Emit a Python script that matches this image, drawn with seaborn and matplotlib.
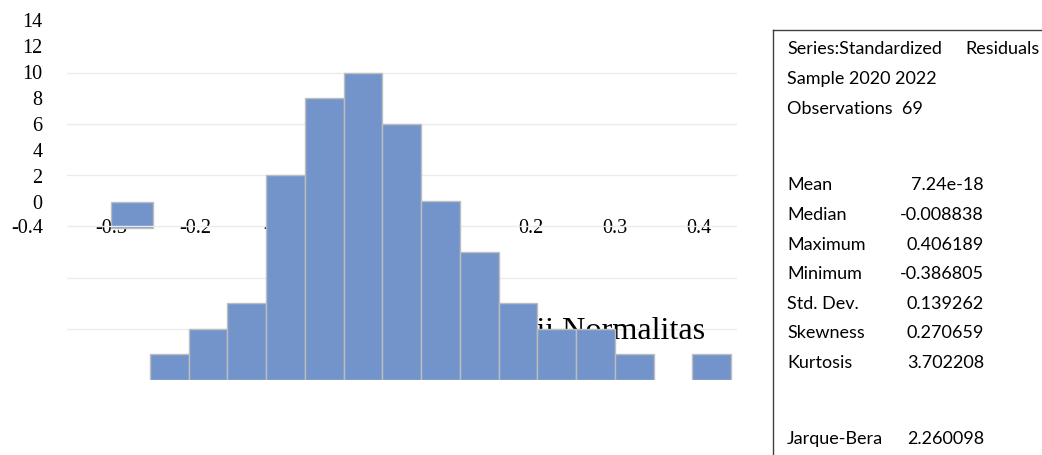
import numpy as np
import pandas as pd
import matplotlib
matplotlib.use("Agg")
import matplotlib.pyplot as plt
import seaborn as sns

# ---------------- data ----------------
bin_left = [-0.35, -0.30, -0.25, -0.20, -0.15, -0.10, -0.05, 0.00,
            0.05, 0.10, 0.15, 0.20, 0.25, 0.30, 0.35]
counts = [1, 2, 3, 8, 11, 12, 10, 7, 5, 3, 2, 2, 1, 0, 1]
bin_width = 0.05

# displaced first bin (drawn on the stray axis)
displaced_left = [-0.30]
displaced_height = [-2]

ghost_xticks = [-0.4, -0.3, -0.2, -0.1, 0.0, 0.1, 0.2, 0.3, 0.4]
ghost_xlabels = ["-0.4", "-0.3", "-0.2", "-0.1", "0.0", "0.1", "0.2", "0.3", "0.4"]
ghost_yticks = [0, 2, 4, 6, 8, 10, 12, 14]

title_text = "Uji Normalitas"

stat_header = ["Series:Standardized", "Sample 2020 2022", "Observations  69"]
stat_header2 = "Residuals"
stat_names = ["Mean", "Median", "Maximum", "Minimum", "Std. Dev.",
              "Skewness", "Kurtosis", "Jarque-Bera"]
stat_values = ["7.24e-18", "-0.008838", "0.406189", "-0.386805", "0.139262",
               "0.270659", "3.702208", "2.260098"]

# ---------------- figure ----------------
sns.set_theme(style="white")
plt.rcParams["font.family"] = ["Liberation Serif", "DejaVu Serif"]

W, H = 1042, 455
fig = plt.figure(figsize=(W / 100, H / 100), dpi=100)


def px_axes(x0, y0, x1, y1, **kw):
    """axes from pixel box (top-left origin)"""
    return fig.add_axes([x0 / W, 1 - y1 / H, (x1 - x0) / W, (y1 - y0) / H], **kw)


BAR_COLOR = "#7294CB"
EDGE_COLOR = "#BDBDBD"

# ---- stray axis (underneath) ----
ghost = px_axes(27, 20, 699, 202)
ghost.set_zorder(0)
ghost.patch.set_alpha(0)
ghost.set_xlim(-0.4, 0.4)
ghost.set_ylim(0, 14)
for s in ghost.spines.values():
    s.set_visible(False)
ghost.set_xticks(ghost_xticks)
ghost.set_xticklabels(ghost_xlabels)
ghost.set_yticks(ghost_yticks)
ghost.tick_params(axis="x", length=0, pad=12.5, labelsize=14.5, colors="black")
ghost.tick_params(axis="y", length=0, pad=-11.2, labelsize=14.5, colors="black")
ghost.bar([l + bin_width / 2 for l in displaced_left], displaced_height,
          width=bin_width, color=BAR_COLOR, edgecolor=EDGE_COLOR,
          linewidth=1.0, clip_on=False, zorder=3)

# ---- histogram axis ----
ax = px_axes(67, 72, 737, 380)
ax.set_zorder(1)
ax.patch.set_alpha(0)
px_per_unit = 581 / 0.75
ax.set_xlim(-0.35 - 83 / px_per_unit, 0.40 + 6 / px_per_unit)
ax.set_ylim(0, 12.02)

df = pd.DataFrame({"left": bin_left, "count": counts})
df["center"] = df["left"] + bin_width / 2
sns.histplot(data=df, x="center", weights="count", binwidth=bin_width,
             binrange=(bin_left[0], bin_left[-1] + bin_width), ax=ax,
             color=BAR_COLOR, alpha=1.0, edgecolor=EDGE_COLOR, linewidth=1.0,
             zorder=2)
for p in ax.patches:
    if p.get_height() == 0:
        p.set_visible(False)

ax.set_yticks([2, 4, 6, 8, 10, 12])
ax.yaxis.grid(True, color="#EBEBEB", linewidth=1.0, zorder=0)
ax.set_axisbelow(True)
ax.set_xticks([])
ax.tick_params(axis="y", length=0, labelleft=False)
ax.set_xlabel("")
ax.set_ylabel("")
for s in ax.spines.values():
    s.set_visible(False)

# title (behind bars)
ax.text(705 / W, 1 - 339 / H, title_text, transform=fig.transFigure,
        ha="right", va="baseline", fontsize=23.2, color="black", zorder=1)

# ---- statistics panel ----
sp = px_axes(773, 30, 1060, 470)
sp.set_xlim(0, 1)
sp.set_ylim(0, 1)
sp.set_xticks([])
sp.set_yticks([])
sp.patch.set_alpha(0)
for k in ("right", "bottom"):
    sp.spines[k].set_visible(False)
for k in ("left", "top"):
    sp.spines[k].set_color("#3F3F3F")
    sp.spines[k].set_linewidth(1.0)

sfont = dict(family=["Lato", "DejaVu Sans"], fontsize=13, color="black")
header_y = [49, 79, 109]
for txt, yy in zip(stat_header, header_y):
    fig.text(787 / W, 1 - yy / H, txt, ha="left", va="center", **sfont)
fig.text(965 / W, 1 - header_y[0] / H, stat_header2, ha="left", va="center", **sfont)

stat_y = [185, 215, 245, 274, 304, 333, 363, 439]
for name, val, yy in zip(stat_names, stat_values, stat_y):
    fig.text(787 / W, 1 - yy / H, name, ha="left", va="center", **sfont)
    fig.text(984 / W, 1 - yy / H, val, ha="right", va="center", **sfont)

fig.savefig("out.png", dpi=100)
